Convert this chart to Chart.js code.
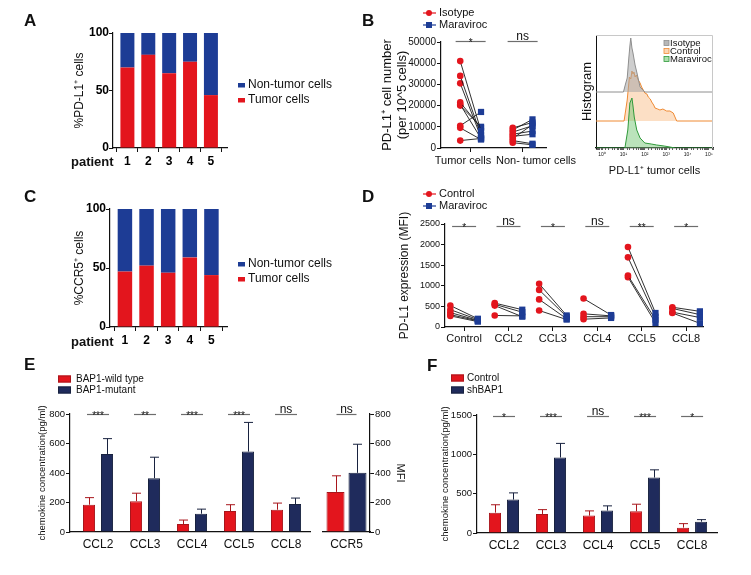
<!DOCTYPE html>
<html>
<head>
<meta charset="utf-8">
<script src="https://cdn.jsdelivr.net/npm/chart.js@4.4.1/dist/chart.umd.min.js"></script>
<style>
  html, body { margin: 0; padding: 0; background: #fff; }
  #fig { position: relative; width: 751px; height: 575px; overflow: hidden; }
  #fig canvas { position: absolute; left: 0; top: 0; }
</style>
</head>
<body>
<div id="fig">
  <canvas id="cA" width="751" height="575"></canvas>
  <canvas id="cB" width="751" height="575"></canvas>
  <canvas id="cHist" width="751" height="575"></canvas>
  <canvas id="cC" width="751" height="575"></canvas>
  <canvas id="cD" width="751" height="575"></canvas>
  <canvas id="cE" width="751" height="575"></canvas>
  <canvas id="cE2" width="751" height="575"></canvas>
  <canvas id="cF" width="751" height="575"></canvas>
</div>
<script>
// ---- data ----
const patients = ['1', '2', '3', '4', '5'];
const aTumor = [70, 81, 65, 75, 46];
const aNonTumor = [30, 19, 35, 25, 54];
const cTumor = [47, 52, 46, 59, 44];
const cNonTumor = [53, 48, 54, 41, 56];

const bCats = ['Tumor cells', 'Non- tumor cells'];
const bTumorIsotype = [41000, 34000, 30500, 21500, 20500, 20000, 10500, 9500, 3500];
const bTumorMaraviroc = [8000, 6000, 5000, 9500, 4500, 10000, 17000, 4000, 4500];
const bNonIsotype = [9500, 8500, 7500, 6500, 5500, 4500, 3500, 2500];
const bNonMaraviroc = [12000, 13500, 10500, 8000, 6500, 11000, 2000, 1500];
const bSig = ['*', 'ns'];

// flow histogram (PD-L1 intensity vs relative count)
const histIsoX = [0.5, 10, 12.5, 15, 18, 20, 22, 25, 28, 35, 43, 60, 100, 160000];
const histIsoY = [0, 0, 8, 14, 35, 46, 54, 44, 39, 27, 19, 5, 0, 0];
const histCtlX = [0.5, 10.7, 15, 19, 22, 25, 28, 31, 35, 40, 49, 60, 71, 85, 100, 125, 145, 180, 210, 260, 300, 400, 510, 700, 1050, 1500, 2140, 3100, 160000];
const histCtlY = [0, 0, 21, 44, 42, 50, 47, 49, 44, 46, 41, 38, 34, 31, 28, 27, 24, 22, 19, 16, 13, 12, 11, 12, 10, 10, 8, 0, 0];
const histMarX = [0.5, 11.7, 16, 20, 25, 28, 32, 42, 60, 100, 200, 360, 800, 1500, 2600, 160000];
const histMarY = [0, 0, 18, 45, 50, 42, 31, 18, 10, 5, 4, 3, 2, 1, 0, 0];

const dCats = ['Control', 'CCL2', 'CCL3', 'CCL4', 'CCL5', 'CCL8'];
const dControl = [[520, 420, 350, 300, 270], [580, 550, 520, 280], [1050, 900, 670, 400], [690, 320, 250, 190], [1940, 1690, 1250, 1210], [480, 450, 360, 340]];
const dMaraviroc = [[200, 180, 160, 150, 130], [420, 360, 250, 270], [280, 250, 200, 180], [290, 270, 250, 220], [340, 250, 180, 100], [380, 300, 230, 90]];
const dSig = ['*', 'ns', '*', 'ns', '**', '*'];

const eCats = ['CCL2', 'CCL3', 'CCL4', 'CCL5', 'CCL8'];
const eWild = [185, 209, 54, 142, 151];
const eWildErr = [48, 54, 27, 43, 45];
const eMutant = [529, 365, 124, 545, 189];
const eMutantErr = [104, 142, 31, 198, 41];
const eSig = ['***', '**', '***', '***', 'ns'];
const ccr5Cats = ['CCR5'];
const ccr5Wild = [272];
const ccr5WildErr = [109];
const ccr5Mutant = [401];
const ccr5MutantErr = [194];

const fCats = ['CCL2', 'CCL3', 'CCL4', 'CCL5', 'CCL8'];
const fControl = [259, 242, 221, 276, 68];
const fControlErr = [100, 55, 60, 90, 51];
const fShBAP1 = [425, 960, 285, 705, 144];
const fShBAP1Err = [85, 179, 60, 98, 26];
const fSig = ['*', '***', 'ns', '***', '*'];

// ---- styling ----
const W = 751, H = 575;
const FONT = '"Liberation Sans", Arial, Helvetica, sans-serif';
const RED = '#e3151d';
const BLUE = '#1d3c95';
const NAVY = '#1f2b5c';
const INK = '#111';

Chart.defaults.font.family = FONT;
Chart.defaults.font.size = 11;
Chart.defaults.color = INK;
Chart.defaults.animation = false;
Chart.defaults.responsive = false;
Chart.defaults.devicePixelRatio = 1;
Chart.defaults.plugins.legend.display = false;
Chart.defaults.plugins.tooltip.enabled = false;

// place the plot area at page pixels l,t,r,b
function frame(l, t, r, b, yW, xH, rW) {
  return { padding: { left: l - yW, top: t, right: W - r - (rW || 0), bottom: H - b - xH } };
}
const fixW = w => s => { s.width = w; };
const fixH = h => s => { s.height = h; };
const atIndex = n => s => { s.ticks = Array.from({ length: n }, (_, i) => ({ value: i })); };
const plain = v => String(v);

function axis(extra) {
  return Object.assign({
    border: { display: true, color: INK, width: 1.2 },
    grid: { display: true, drawOnChartArea: false, drawTicks: true, tickLength: 4, color: INK, lineWidth: 1 }
  }, extra);
}

function drawKey(ctx, k) {
  ctx.save();
  if (k.kind === 'dash') {
    ctx.fillStyle = k.color;
    ctx.fillRect(k.x, k.y - 2, 7, 4.5);
  } else if (k.kind === 'box') {
    ctx.fillStyle = k.color;
    ctx.fillRect(k.x, k.y - 3.5, 13, 7);
    ctx.strokeStyle = k.edge;
    ctx.lineWidth = 1;
    ctx.strokeRect(k.x + 0.5, k.y - 3, 12, 6);
  } else if (k.kind === 'line') {
    ctx.strokeStyle = k.color;
    ctx.lineWidth = 1.2;
    ctx.beginPath(); ctx.moveTo(k.x, k.y); ctx.lineTo(k.x + 13, k.y); ctx.stroke();
    ctx.fillStyle = k.color;
    if (k.mark === 'circle') {
      ctx.beginPath(); ctx.arc(k.x + 6, k.y, 3, 0, Math.PI * 2); ctx.fill();
    } else {
      ctx.fillRect(k.x + 3, k.y - 3, 6, 6);
    }
  } else if (k.kind === 'sq') {
    ctx.fillStyle = k.color;
    ctx.fillRect(k.x, k.y - 2.5, 5, 5);
    ctx.strokeStyle = k.edge;
    ctx.lineWidth = 0.8;
    ctx.strokeRect(k.x, k.y - 2.5, 5, 5);
  }
  if (k.text) {
    ctx.fillStyle = INK;
    ctx.font = (k.s || 11) + 'px ' + FONT;
    ctx.textAlign = 'left';
    ctx.textBaseline = 'middle';
    ctx.fillText(k.text, k.tx, k.y);
  }
  ctx.restore();
}

function drawText(ctx, t) {
  ctx.save();
  ctx.fillStyle = t.color || INK;
  ctx.font = (t.w || 'normal') + ' ' + (t.s || 12) + 'px ' + FONT;
  ctx.textAlign = t.align || 'left';
  ctx.textBaseline = 'middle';
  ctx.translate(t.x, t.y);
  if (t.rot) ctx.rotate(t.rot);
  ctx.fillText(t.t, 0, 0);
  ctx.restore();
}

function drawSig(chart, sig) {
  const ctx = chart.ctx;
  const xs = chart.scales.x, ys = chart.scales.y;
  const y = Math.round(ys.getPixelForValue(sig.at)) + 0.5;
  ctx.save();
  sig.labels.forEach((lab, i) => {
    const cx = xs.getPixelForValue(sig.pos ? sig.pos[i] : i) + (sig.shift || 0);
    ctx.strokeStyle = '#6d6d6d';
    ctx.lineWidth = 1.2;
    ctx.beginPath(); ctx.moveTo(cx - sig.half, y); ctx.lineTo(cx + sig.half, y); ctx.stroke();
    ctx.fillStyle = INK;
    ctx.textAlign = 'center';
    ctx.textBaseline = 'alphabetic';
    if (lab === 'ns') {
      ctx.font = '12px ' + FONT;
      ctx.fillText(lab, cx, y - 2);
    } else {
      ctx.font = '10px ' + FONT;
      ctx.fillText(lab, cx, y + 4);
    }
  });
  ctx.restore();
}

function notes(spec) {
  return {
    id: 'notes',
    afterDraw(chart) {
      const ctx = chart.ctx;
      (spec.keys || []).forEach(k => drawKey(ctx, k));
      (spec.texts || []).forEach(t => drawText(ctx, t));
      if (spec.sig) drawSig(chart, spec.sig);
      if (spec.box) {
        const a = chart.chartArea;
        ctx.save();
        ctx.strokeStyle = '#c8c8c8';
        ctx.lineWidth = 1;
        ctx.beginPath();
        ctx.moveTo(a.left, a.top + 0.5); ctx.lineTo(a.right - 0.5, a.top + 0.5); ctx.lineTo(a.right - 0.5, a.bottom);
        ctx.stroke();
        ctx.restore();
      }
    }
  };
}

// upper error whiskers on bars
const whiskers = {
  id: 'whiskers',
  afterDatasetsDraw(chart) {
    const ctx = chart.ctx;
    chart.data.datasets.forEach((ds, di) => {
      if (!ds.errors) return;
      const meta = chart.getDatasetMeta(di);
      const ys = chart.scales[meta.yAxisID];
      meta.data.forEach((bar, i) => {
        const d = ds.data[i];
        const v = typeof d === 'object' ? d.y : d;
        const top = ys.getPixelForValue(v + ds.errors[i]);
        const x = Math.round(bar.x) + 0.5;
        ctx.save();
        ctx.strokeStyle = ds.borderColor;
        ctx.lineWidth = 1;
        ctx.beginPath();
        ctx.moveTo(x, bar.y); ctx.lineTo(x, top);
        ctx.moveTo(x - 4.5, top); ctx.lineTo(x + 4.5, top);
        ctx.stroke();
        ctx.restore();
      });
    });
  }
};

// one dataset per paired sample: left point (circle) to right point (square)
function pairs(index, left, right, off) {
  return left.map((v, k) => ({
    data: [{ x: index - off, y: v }, { x: index + off, y: right[k] }],
    showLine: true,
    borderColor: '#1a1a1a',
    borderWidth: 0.9,
    pointStyle: ['circle', 'rect'],
    pointRadius: [3.3, 4.4],
    pointBackgroundColor: [RED, BLUE],
    pointBorderWidth: 0
  }));
}

// ---------- A and C ----------
function stackedPanel(id, tumor, non, area, yW, xMin, xMax, title, letter, keyY, patientY) {
  new Chart(document.getElementById(id), {
    type: 'bar',
    data: {
      datasets: [
        { label: 'Tumor cells', data: patients.map((p, i) => ({ x: i, y: tumor[i] })), backgroundColor: RED },
        { label: 'Non-tumor cells', data: patients.map((p, i) => ({ x: i, y: non[i] })), backgroundColor: BLUE }
      ]
    },
    options: {
      layout: frame(area[0], area[1], area[2], area[3], yW, 30),
      datasets: { bar: { barPercentage: 0.67, categoryPercentage: 1 } },
      scales: {
        x: axis({
          type: 'linear', stacked: true, offset: false, min: xMin, max: xMax,
          afterBuildTicks: atIndex(patients.length), afterFit: fixH(30),
          ticks: { callback: v => patients[v], font: { size: 12, weight: 'bold' }, color: '#000', padding: 2, maxRotation: 0 }
        }),
        y: axis({
          stacked: true, min: 0, max: 100, afterFit: fixW(yW),
          ticks: { stepSize: 50, callback: plain, font: { size: 12, weight: 'bold' }, color: '#000', padding: 0 },
          title: { display: true, text: title, font: { size: 12 }, padding: 0, color: INK }
        })
      }
    },
    plugins: [notes({
      keys: [
        { kind: 'dash', x: 238, y: keyY, color: BLUE, text: 'Non-tumor cells', tx: 248, s: 12 },
        { kind: 'dash', x: 238, y: keyY + 15, color: RED, text: 'Tumor cells', tx: 248, s: 12 }
      ],
      texts: [
        { t: letter, x: 24, y: letter === 'A' ? 21 : 197, w: 'bold', s: 17 },
        { t: 'patient', x: 71, y: patientY, w: 'bold', s: 13 }
      ]
    })]
  });
}
stackedPanel('cA', aTumor, aNonTumor, [113, 33, 227, 148], 40.2, -0.69, 4.77, '%PD-L1⁺ cells', 'A', 85, 162);
stackedPanel('cC', cTumor, cNonTumor, [110, 209, 227, 327], 37.2, -0.69, 4.72, '%CCR5⁺ cells', 'C', 264, 342);

// ---------- B ----------
new Chart(document.getElementById('cB'), {
  type: 'scatter',
  data: {
    datasets: [].concat(
      pairs(0, bTumorIsotype, bTumorMaraviroc, 0.2),
      pairs(1, bNonIsotype, bNonMaraviroc, 0.19)
    )
  },
  options: {
    layout: frame(441, 42, 546, 148, 61.8, 30),
    scales: {
      x: axis({
        type: 'linear', min: -0.57, max: 1.45, afterBuildTicks: atIndex(bCats.length), afterFit: fixH(30),
        ticks: { callback: () => '' }
      }),
      y: axis({
        min: 0, max: 50000, afterFit: fixW(61.8),
        ticks: { stepSize: 10000, callback: plain, font: { size: 10 }, padding: 1 },
        title: { display: true, text: ['PD-L1⁺ cell number', '(per 10^5 cells)'], font: { size: 13 }, padding: 0, color: INK }
      })
    }
  },
  plugins: [notes({
    keys: [
      { kind: 'line', mark: 'circle', x: 423, y: 13, color: RED, text: 'Isotype', tx: 439 },
      { kind: 'line', mark: 'rect', x: 423, y: 25, color: BLUE, text: 'Maraviroc', tx: 439 }
    ],
    texts: [
      { t: 'B', x: 362, y: 21, w: 'bold', s: 17 },
      { t: bCats[0], x: 463, y: 161, align: 'center', s: 11 },
      { t: bCats[1], x: 536, y: 161, align: 'center', s: 11 }
    ],
    sig: { labels: bSig, at: 50300, half: 15 }
  })]
});

// ---------- B histogram ----------
const sup = ['⁰', '¹', '²', '³', '⁴', '⁵'];
new Chart(document.getElementById('cHist'), {
  type: 'scatter',
  data: {
    datasets: [
      { label: 'Isotype', data: histIsoX.map((x, i) => ({ x, y: histIsoY[i] })), yAxisID: 'yIso', showLine: true, fill: 'origin',
        borderColor: '#8e8e8e', backgroundColor: 'rgba(165,165,165,0.55)', borderWidth: 1, pointRadius: 0 },
      { label: 'Maraviroc', data: histMarX.map((x, i) => ({ x, y: histMarY[i] })), yAxisID: 'yMar', showLine: true, fill: 'origin',
        borderColor: '#2f9a3a', backgroundColor: 'rgba(120,200,120,0.5)', borderWidth: 1, pointRadius: 0 },
      { label: 'Control', data: histCtlX.map((x, i) => ({ x, y: histCtlY[i] })), yAxisID: 'yCtl', showLine: true, fill: 'origin',
        borderColor: '#ef8a33', backgroundColor: 'rgba(249,196,150,0.55)', borderWidth: 1, pointRadius: 0 }
    ]
  },
  options: {
    layout: frame(596, 35, 713, 148, 16.8, 30),
    scales: {
      x: axis({
        type: 'logarithmic', min: 0.52, max: 155000, afterFit: fixH(30),
        grid: { display: true, drawOnChartArea: false, drawTicks: true, tickLength: 2, color: '#333', lineWidth: 0.8 },
        ticks: {
          autoSkip: false, maxRotation: 0, font: { size: 5 }, padding: 2,
          callback: v => {
            const e = Math.log10(v);
            return Math.abs(e - Math.round(e)) < 1e-6 && e >= 0 ? '10' + sup[Math.round(e)] : '';
          }
        },
        title: { display: true, text: 'PD-L1⁺ tumor cells', font: { size: 11 }, padding: 0, color: INK }
      }),
      yIso: { display: false, min: -56, max: 57 },
      yCtl: { display: false, min: -27, max: 86 },
      yMar: {
        position: 'left', min: 0, max: 113, afterFit: fixW(16.8),
        border: { display: true, color: INK, width: 1 },
        grid: { display: false },
        ticks: { display: false },
        title: { display: true, text: 'Histogram', font: { size: 13 }, padding: 0, color: INK }
      }
    }
  },
  plugins: [notes({
    box: true,
    keys: [
      { kind: 'sq', x: 664, y: 43, color: 'rgba(165,165,165,0.8)', edge: '#8e8e8e', text: 'Isotype', tx: 670, s: 9.5 },
      { kind: 'sq', x: 664, y: 51, color: 'rgba(249,196,150,0.7)', edge: '#ef8a33', text: 'Control', tx: 670, s: 9.5 },
      { kind: 'sq', x: 664, y: 59, color: 'rgba(140,210,140,0.7)', edge: '#2f9a3a', text: 'Maraviroc', tx: 670, s: 9.5 }
    ]
  })]
});

// ---------- D ----------
new Chart(document.getElementById('cD'), {
  type: 'scatter',
  data: {
    datasets: [].concat(...dCats.map((c, i) => pairs(i, dControl[i], dMaraviroc[i], 0.31)))
  },
  options: {
    layout: frame(445, 224, 703, 327, 47.2, 30),
    scales: {
      x: axis({
        type: 'linear', min: -0.43, max: 5.38, afterBuildTicks: atIndex(dCats.length), afterFit: fixH(30),
        ticks: { callback: v => dCats[v], font: { size: 11 }, padding: 1, maxRotation: 0 }
      }),
      y: axis({
        min: 0, max: 2500, afterFit: fixW(47.2),
        ticks: { stepSize: 500, callback: plain, font: { size: 9 }, padding: 1 },
        title: { display: true, text: 'PD-L1 expression (MFI)', font: { size: 12 }, padding: 0, color: INK }
      })
    }
  },
  plugins: [notes({
    keys: [
      { kind: 'line', mark: 'circle', x: 423, y: 194, color: RED, text: 'Control', tx: 439 },
      { kind: 'line', mark: 'rect', x: 423, y: 206, color: BLUE, text: 'Maraviroc', tx: 439 }
    ],
    texts: [{ t: 'D', x: 362, y: 197, w: 'bold', s: 17 }],
    sig: { labels: dSig, at: 2450, half: 12 }
  })]
});

// ---------- E ----------
new Chart(document.getElementById('cE'), {
  type: 'bar',
  data: {
    datasets: [
      { label: 'BAP1-wild type', data: eCats.map((c, i) => ({ x: i, y: eWild[i] })), backgroundColor: RED, borderColor: '#a8161c', borderWidth: 1, errors: eWildErr },
      { label: 'BAP1-mutant', data: eCats.map((c, i) => ({ x: i, y: eMutant[i] })), backgroundColor: NAVY, borderColor: '#18223f', borderWidth: 1, errors: eMutantErr }
    ]
  },
  options: {
    layout: frame(70, 414, 310, 532, 33.7, 30),
    datasets: { bar: { categoryPercentage: 0.766, barPercentage: 0.67 } },
    scales: {
      x: axis({
        type: 'linear', offset: false, min: -0.596, max: 4.51, afterBuildTicks: atIndex(eCats.length), afterFit: fixH(30),
        grid: { display: false },
        ticks: { callback: v => eCats[v], font: { size: 12 }, padding: -3, maxRotation: 0 }
      }),
      y: axis({
        min: 0, max: 800, afterFit: fixW(33.7),
        ticks: { stepSize: 200, callback: plain, font: { size: 9.5 }, padding: 1 },
        title: { display: true, text: 'chemokine concentration(pg/ml)', font: { size: 9.5 }, padding: 0, color: INK }
      })
    }
  },
  plugins: [whiskers, notes({
    keys: [
      { kind: 'box', x: 58, y: 379, color: RED, edge: '#a8161c', text: 'BAP1-wild type', tx: 76, s: 10 },
      { kind: 'box', x: 58, y: 390, color: NAVY, edge: '#18223f', text: 'BAP1-mutant', tx: 76, s: 10 }
    ],
    texts: [{ t: 'E', x: 24, y: 365, w: 'bold', s: 17 }],
    sig: { labels: eSig, at: 800, half: 11 }
  })]
});

new Chart(document.getElementById('cE2'), {
  type: 'bar',
  data: {
    labels: ccr5Cats,
    datasets: [
      { label: 'BAP1-wild type', data: ccr5Wild, backgroundColor: RED, borderColor: '#a8161c', borderWidth: 1, errors: ccr5WildErr },
      { label: 'BAP1-mutant', data: ccr5Mutant, backgroundColor: NAVY, borderColor: '#18223f', borderWidth: 1, errors: ccr5MutantErr }
    ]
  },
  options: {
    layout: frame(323, 414, 370, 532, 0, 30, 36.6),
    datasets: { bar: { categoryPercentage: 0.936, barPercentage: 0.82 } },
    scales: {
      x: axis({
        afterFit: fixH(30), grid: { display: false },
        ticks: { font: { size: 12 }, padding: -3, maxRotation: 0 }
      }),
      y: axis({
        position: 'right', min: 0, max: 800, afterFit: fixW(36.6),
        ticks: { stepSize: 200, callback: plain, font: { size: 9.5 }, padding: 1 },
        title: { display: true, text: 'MFI', font: { size: 11 }, padding: 0, color: INK }
      })
    }
  },
  plugins: [whiskers, notes({ sig: { labels: ['ns'], at: 800, half: 10 } })]
});

// ---------- F ----------
new Chart(document.getElementById('cF'), {
  type: 'bar',
  data: {
    datasets: [
      { label: 'Control', data: fCats.map((c, i) => ({ x: i, y: fControl[i] })), backgroundColor: RED, borderColor: '#a8161c', borderWidth: 1, errors: fControlErr },
      { label: 'shBAP1', data: fCats.map((c, i) => ({ x: i, y: fShBAP1[i] })), backgroundColor: NAVY, borderColor: '#18223f', borderWidth: 1, errors: fShBAP1Err }
    ]
  },
  options: {
    layout: frame(477, 415, 717, 533, 37.7, 30),
    datasets: { bar: { categoryPercentage: 0.766, barPercentage: 0.67 } },
    scales: {
      x: axis({
        type: 'linear', offset: false, min: -0.574, max: 4.53, afterBuildTicks: atIndex(fCats.length), afterFit: fixH(30),
        grid: { display: false },
        ticks: { callback: v => fCats[v], font: { size: 12 }, padding: -3, maxRotation: 0 }
      }),
      y: axis({
        min: 0, max: 1500, afterFit: fixW(37.7),
        ticks: { stepSize: 500, callback: plain, font: { size: 9.5 }, padding: 1 },
        title: { display: true, text: 'chemokine concentration(pg/ml)', font: { size: 9.5 }, padding: 0, color: INK }
      })
    }
  },
  plugins: [whiskers, notes({
    keys: [
      { kind: 'box', x: 451, y: 378, color: RED, edge: '#a8161c', text: 'Control', tx: 467, s: 10 },
      { kind: 'box', x: 451, y: 390, color: NAVY, edge: '#18223f', text: 'shBAP1', tx: 467, s: 10 }
    ],
    texts: [{ t: 'F', x: 427, y: 366, w: 'bold', s: 17 }],
    sig: { labels: fSig, at: 1490, half: 11 }
  })]
});
</script>
</body>
</html>
